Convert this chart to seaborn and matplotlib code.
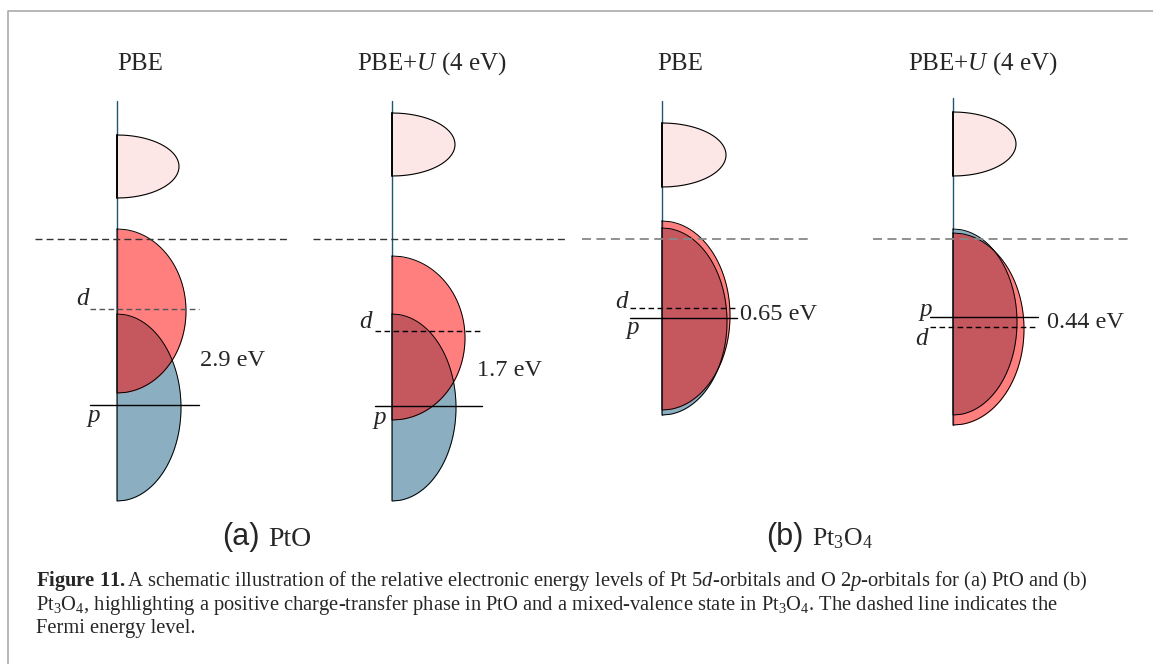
import numpy as np
import matplotlib
matplotlib.use("Agg")
import matplotlib.pyplot as plt
import seaborn as sns

sns.set_theme(style="white")
plt.rcParams['font.family'] = ['Liberation Serif', 'DejaVu Serif']
plt.rcParams['mathtext.fontset'] = 'custom'
plt.rcParams['mathtext.rm'] = 'Liberation Serif'
plt.rcParams['mathtext.it'] = 'Liberation Serif:italic'
plt.rcParams['mathtext.bf'] = 'Liberation Serif:bold'

# ---------------- data (schematic, in figure pixel units) ----------------
panel_titles = ["PBE", "PBE+$U$ (4 eV)", "PBE", "PBE+$U$ (4 eV)"]
title_x = [140, 432, 680, 983]
axis_x = [117, 392, 662, 953]
axis_top = [101, 101, 101, 98]
axis_bottom = [500, 500, 415, 425]

# unoccupied d states (pale pink)
unocc_top = [135, 113, 123, 112]
unocc_bottom = [198, 176, 187, 176]
unocc_width = [62, 63, 64, 63]

# occupied Pt 5d band (red)
d_top = [229, 256, 221, 233]
d_bottom = [393, 420, 410, 425]
d_width = [69, 73, 68, 71]

# O 2p band (blue)
p_top = [314, 314, 228, 229]
p_bottom = [501, 501, 415, 415]
p_width = [64, 64, 65, 64]

# band centres (levels)
d_level = [309, 331, 308, 327]
p_level = [405, 406, 318, 317]
level_x0 = [90, 375, 630, 930]
level_x1 = [199, 482, 737, 1038]
d_label_pos = [(83, 299), (366, 322), (622, 302), (922, 339)]
p_label_pos = [(94, 418), (380, 420), (633, 330), (926, 312)]

gap_labels = ["2.9 eV", "1.7 eV", "0.65 eV", "0.44 eV"]
gap_pos = [(200, 360), (477, 371), (740, 315), (1047, 322)]

fermi_y = 239
fermi_x0 = [35, 313, 582, 873]
fermi_x1 = [290, 565, 810, 1128]
fermi_color = ["#333333", "#333333", "#888888", "#888888"]

sub_labels = [("(a)", "PtO"), ("(b)", "Pt$_3$O$_4$")]
sub_x = [222, 766]
sub_name_x = [268, 812]
sub_name_size = [20, 18.5]

caption_lines = [
    r"$\mathbf{Figure\ 11.}$A schematic illustration of the relative electronic energy levels of Pt 5$d$-orbitals and O 2$p$-orbitals for (a) PtO and (b)",
    r"Pt$_3$O$_4$, highlighting a positive charge-transfer phase in PtO and a mixed-valence state in Pt$_3$O$_4$. The dashed line indicates the",
    "Fermi energy level.",
]

# colours
c_blue = "#8BAFC0"
c_red = "#FF0000"
c_pink = "#FDE6E6"
c_axis = "#1F5673"

W, H = 1153, 664
fig = plt.figure(figsize=(W / 100, H / 100), dpi=100)
ax = fig.add_axes([0, 0, 1, 1])
ax.set_xlim(0, W)
ax.set_ylim(H, 0)
ax.axis("off")


def half_ellipse(x0, top, bottom, width, **kw):
    yc = (top + bottom) / 2
    h = (bottom - top) / 2
    y = np.linspace(top, bottom, 300)
    x = x0 + width * np.sqrt(np.clip(1 - ((y - yc) / h) ** 2, 0, 1))
    ax.fill_betweenx(y, x0, x, linewidth=0, **kw)
    xs = np.concatenate([[x0], x, [x0, x0]])
    ys = np.concatenate([[top], y, [bottom, top]])
    return xs, ys


# frame
ax.plot([8, 8, W], [H, 11, 11], color="#aaaaaa", lw=1.2, zorder=1)

for i in range(4):
    x0 = axis_x[i]
    # fermi level
    ax.plot([fermi_x0[i], fermi_x1[i]], [fermi_y, fermi_y], ls=(0, (5, 3)),
            color=fermi_color[i], lw=1.0 if i < 2 else 1.3, zorder=6)
    # axis line
    ax.plot([x0, x0], [axis_top[i], axis_bottom[i]], color=c_axis, lw=1.0, zorder=2)
    # blue p band
    bx, by = half_ellipse(x0, p_top[i], p_bottom[i], p_width[i], color=c_blue, zorder=3)
    # red d band
    rx, ry = half_ellipse(x0, d_top[i], d_bottom[i], d_width[i], color=c_red, alpha=0.5, zorder=4)
    ax.plot(bx, by, color="black", lw=0.7, zorder=5)
    ax.plot(rx, ry, color="black", lw=0.7, zorder=5)
    # unoccupied
    ux, uy = half_ellipse(x0, unocc_top[i], unocc_bottom[i], unocc_width[i], color=c_pink, zorder=3)
    ax.plot(ux, uy, color="black", lw=0.8, zorder=5)
    ax.plot([x0, x0], [unocc_top[i], unocc_bottom[i]], color="black", lw=1.3, zorder=5)
    # levels
    ax.plot([level_x0[i], level_x1[i]], [d_level[i], d_level[i]], ls=(0, (4, 2.5)),
            color="#555555" if i == 0 else "black", lw=1.0, zorder=6)
    ax.plot([level_x0[i], level_x1[i]], [p_level[i], p_level[i]], color="black", lw=1.0, zorder=6)
    ax.text(*d_label_pos[i], "$d$", fontsize=18, ha="center", va="center", zorder=7)
    ax.text(*p_label_pos[i], "$p$", fontsize=18, ha="center", va="center", zorder=7)
    ax.text(*gap_pos[i], gap_labels[i], fontsize=17.5, ha="left", va="center", zorder=7)
    ax.text(title_x[i], 64, panel_titles[i], fontsize=18, ha="center", va="center")

for (lab, name), sx, nx, ns in zip(sub_labels, sub_x, sub_name_x, sub_name_size):
    ax.text(sx, 537, lab, fontsize=22, ha="left", va="center", family="Liberation Sans")
    ax.text(nx, 539, name, fontsize=ns, ha="left", va="center")

for k, line in enumerate(caption_lines):
    ax.text(36, 581 + 24 * k, line, fontsize=14.8, ha="left", va="center")

fig.savefig("out.png", dpi=100, facecolor="white")
